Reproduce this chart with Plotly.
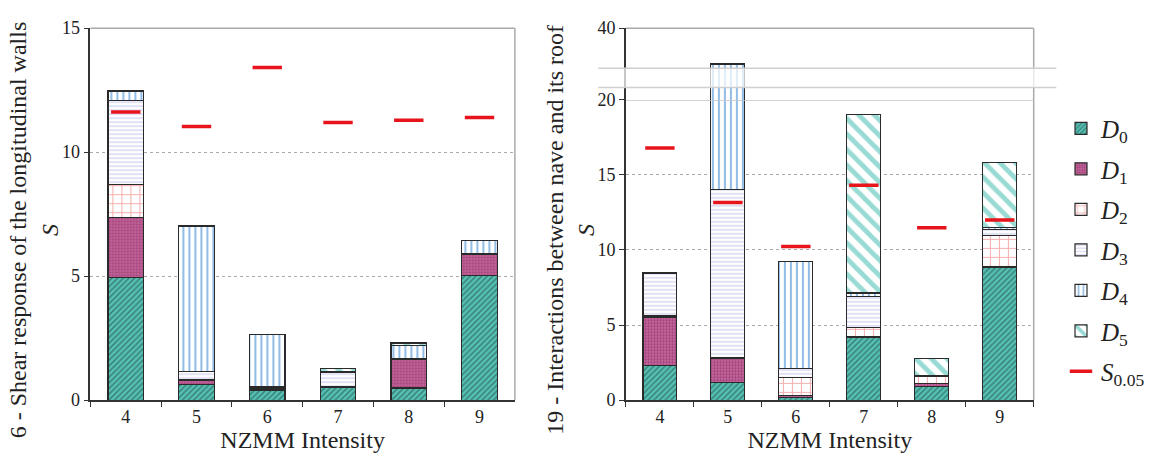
import plotly.graph_objects as go

# NZMM intensity classes on the horizontal axis
intensity = ["4", "5", "6", "7", "8", "9"]

# Mechanism 6 - shear response of the longitudinal walls (stacked damage levels)
walls_d0 = [4.95, 0.62, 0.39, 0.51, 0.49, 5.03]
walls_d1 = [2.41, 0.16, 0.06, 0.04, 1.14, 0.84]
walls_d2 = [1.32, 0.03, 0.07, 0.00, 0.00, 0.02]
walls_d3 = [3.39, 0.35, 0.02, 0.57, 0.03, 0.02]
walls_d4 = [0.37, 5.84, 2.09, 0.02, 0.55, 0.54]
walls_d5 = [0.03, 0.02, 0.00, 0.14, 0.09, 0.00]
walls_s005 = [11.62, 11.03, 13.41, 11.20, 11.29, 11.40]

# Mechanism 19 - interactions between nave and its roof
roof_d0 = [2.31, 1.17, 0.19, 4.20, 0.93, 8.87]
roof_d1 = [3.21, 1.59, 0.13, 0.00, 0.17, 0.00]
roof_d2 = [0.08, 0.05, 1.21, 0.66, 0.47, 2.11]
roof_d3 = [2.81, 11.20, 0.59, 2.02, 0.06, 0.36]
roof_d4 = [0.08, 16.00, 7.12, 0.25, 0.00, 0.16]
roof_d5 = [0.00, 0.00, 0.00, 11.89, 1.13, 4.32]
roof_s005 = [16.80, 13.16, 10.23, 14.31, 11.49, 12.00]

level_names = ["<i>D</i><sub>0</sub>", "<i>D</i><sub>1</sub>", "<i>D</i><sub>2</sub>",
               "<i>D</i><sub>3</sub>", "<i>D</i><sub>4</sub>", "<i>D</i><sub>5</sub>"]
s_name = "<i>S</i><sub>0.05</sub>"

walls = [walls_d0, walls_d1, walls_d2, walls_d3, walls_d4, walls_d5]
roof = [roof_d0, roof_d1, roof_d2, roof_d3, roof_d4, roof_d5]

# fill pattern per damage level
patterns = [
    dict(shape="/", bgcolor="#55c0b3", fgcolor="#1a3835", size=4, solidity=0.35),
    dict(shape=".", bgcolor="#c9679f", fgcolor="#6e2052", size=3, solidity=0.45),
    dict(shape="+", bgcolor="#ffffff", fgcolor="#ec5f5f", size=9, solidity=0.22),
    dict(shape="-", bgcolor="#ffffff", fgcolor="#9c9ce0", size=4, solidity=0.3),
    dict(shape="|", bgcolor="#ffffff", fgcolor="#2a7ccc", size=6, solidity=0.35),
    dict(shape="\\", bgcolor="#ffffff", fgcolor="#33b8aa", size=11, solidity=0.45),
]

SERIF = "Times New Roman, Times, Liberation Serif, serif"
W, H = 1150, 456


def px_x(v):
    return v / W


def px_y(v):
    return 1 - v / H


fig = go.Figure()

for i, (vals, pat) in enumerate(zip(walls, patterns)):
    fig.add_trace(go.Bar(
        x=intensity, y=vals, xaxis="x", yaxis="y", name=level_names[i],
        legendgroup=f"d{i}", showlegend=False,
        marker=dict(pattern=pat, line=dict(color="#2a2a2a", width=1.2)),
    ))

for i, (vals, pat) in enumerate(zip(roof, patterns)):
    # lower panel (0-20)
    fig.add_trace(go.Bar(
        x=intensity, y=vals, xaxis="x2", yaxis="y2", name=level_names[i],
        legendgroup=f"d{i}", showlegend=True,
        marker=dict(pattern=pat, line=dict(color="#2a2a2a", width=1.2)),
    ))
    # upper panel (20-40) above the axis break
    fig.add_trace(go.Bar(
        x=intensity, y=vals, xaxis="x3", yaxis="y3", name=level_names[i],
        legendgroup=f"d{i}", showlegend=False,
        marker=dict(pattern=pat, line=dict(color="#2a2a2a", width=1.2)),
    ))

s_marker = dict(symbol="line-ew", size=21, line=dict(color="#e8141c", width=3.5), color="#e8141c")
fig.add_trace(go.Scatter(x=intensity, y=walls_s005, xaxis="x", yaxis="y", mode="markers",
                         marker=s_marker, name=s_name, legendgroup="s", showlegend=False))
fig.add_trace(go.Scatter(x=intensity, y=roof_s005, xaxis="x2", yaxis="y2", mode="markers",
                         marker=s_marker, name=s_name, legendgroup="s", showlegend=True))

tick_font = dict(family=SERIF, size=18, color="#222")
title_font = dict(family=SERIF, size=24, color="#222")

x_common = dict(type="category", showline=True, linecolor="#333", linewidth=1.5,
                ticks="outside", tickson="boundaries", ticklen=5, tickcolor="#333",
                tickfont=tick_font, showgrid=False, zeroline=False)
y_common = dict(showline=True, linecolor="#333", linewidth=1.5, ticks="outside",
                ticklen=5, tickcolor="#333", tickfont=tick_font, zeroline=False,
                showgrid=True, gridcolor="#aaaaaa", griddash="3px,3px", gridwidth=1)

left_dom = [px_x(92), px_x(524)]
right_dom = [px_x(637), px_x(1052)]
bottom = px_y(408)
top = px_y(19)
brk = px_y(94)

fig.update_layout(
    width=W, height=H,
    margin=dict(l=0, r=0, t=0, b=0),
    paper_bgcolor="white", plot_bgcolor="white",
    barmode="stack", bargap=0.5,
    font=dict(family=SERIF, color="#222"),
    xaxis=dict(domain=left_dom, anchor="y", **x_common,
               title=dict(text="NZMM Intensity", font=title_font, standoff=0)),
    yaxis=dict(domain=[bottom, top], anchor="x", range=[0, 15], tickvals=[0, 5, 10, 15], **y_common),
    xaxis2=dict(domain=right_dom, anchor="y2", **x_common,
                title=dict(text="NZMM Intensity", font=title_font, standoff=0)),
    yaxis2=dict(domain=[bottom, brk], anchor="x2", range=[0, 20], tickvals=[0, 5, 10, 15, 20], **y_common),
    xaxis3=dict(domain=right_dom, anchor="y3", matches="x2", type="category", visible=False),
    yaxis3=dict(domain=[brk, top], anchor="x3", range=[20, 40], tickvals=[40],
                showline=True, linecolor="#333", linewidth=1.5, ticks="outside", ticklen=5,
                tickcolor="#333", tickfont=tick_font, showgrid=False, zeroline=False),
    legend=dict(x=px_x(1080), y=px_y(100), xanchor="left", yanchor="top",
                font=dict(family=SERIF, size=25, color="#222"), tracegroupgap=5,
                itemwidth=30, bgcolor="rgba(0,0,0,0)"),
)

frame = dict(color="#aaaaaa", width=1.5)
shapes = [
    # top and right frame of the left panel
    dict(type="line", xref="x domain", yref="y domain", x0=0, x1=1, y0=1, y1=1, line=frame),
    dict(type="line", xref="x domain", yref="y domain", x0=1, x1=1, y0=0, y1=1, line=frame),
    # top and right frame of the right panel
    dict(type="line", xref="x3 domain", yref="y3 domain", x0=0, x1=1, y0=1, y1=1, line=frame),
    dict(type="line", xref="paper", yref="paper", x0=right_dom[1], x1=right_dom[1], y0=bottom, y1=top, line=frame),
    # solid line where the scale changes
    dict(type="line", xref="x2 domain", yref="y2", x0=0, x1=1, y0=20, y1=20,
         line=dict(color="#c4c4c4", width=1.5), layer="above"),
    # axis break band
    dict(type="rect", xref="paper", yref="paper", x0=px_x(609), x1=px_x(1075),
         y0=px_y(81), y1=px_y(61), fillcolor="rgba(255,255,255,0.72)", line=dict(width=0), layer="above"),
    dict(type="line", xref="paper", yref="paper", x0=px_x(609), x1=px_x(1075),
         y0=px_y(81), y1=px_y(81), line=dict(color="#cfcfcf", width=1.5), layer="above"),
    dict(type="line", xref="paper", yref="paper", x0=px_x(609), x1=px_x(1075),
         y0=px_y(61), y1=px_y(61), line=dict(color="#cfcfcf", width=1.5), layer="above"),
]
fig.update_layout(shapes=shapes)

fig.add_annotation(text="6 - Shear response of the longitudinal walls<br><i>S</i>",
                   xref="paper", yref="paper", x=px_x(35), y=px_y(230), textangle=-90,
                   showarrow=False, font=title_font, xanchor="center", yanchor="middle")
fig.add_annotation(text="19 - Interactions between nave and its roof<br><i>S</i>",
                   xref="paper", yref="paper", x=px_x(581), y=px_y(230), textangle=-90,
                   showarrow=False, font=title_font, xanchor="center", yanchor="middle")

fig.write_html("out.html")
